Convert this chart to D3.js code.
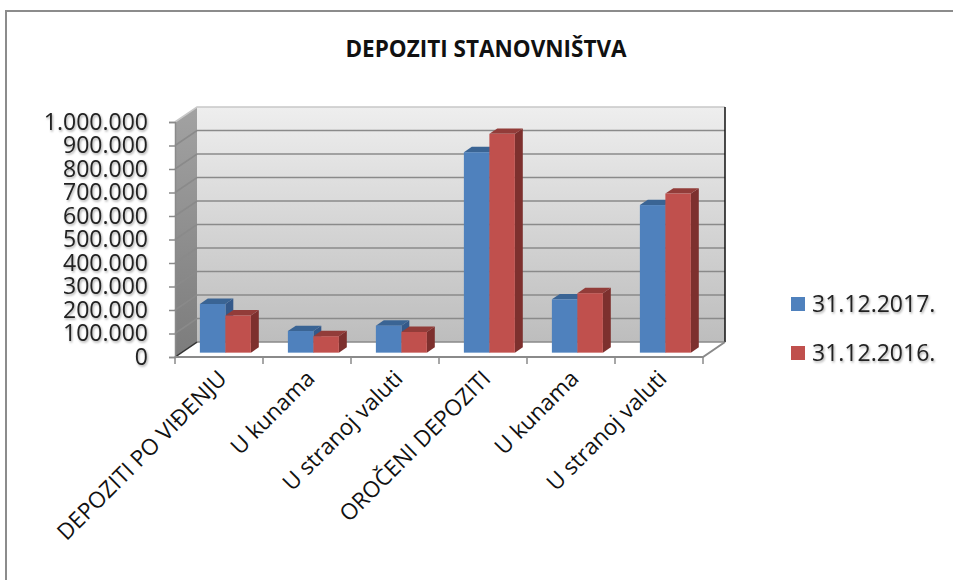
<!DOCTYPE html>
<html>
<head>
  <meta charset="utf-8">
  <script type="text/javascript" src="https://cdn.jsdelivr.net/npm/d3@7"></script>
  <style>
    body { margin: 0; background: #fff; }
    text { font-family: "Open Sans", "Noto Sans", sans-serif; }
  </style>
</head>
<body>
<div id="viz"></div>
<script type="text/javascript">
  // data
  var categories = ["DEPOZITI PO VIĐENJU", "U kunama", "U stranoj valuti", "OROČENI DEPOZITI", "U kunama ", "U stranoj valuti "];
  var series = ["31.12.2017.", "31.12.2016."];
  var values2017 = [207000, 92000, 115000, 853000, 227000, 628000];
  var values2016 = [158000, 70000, 88000, 931000, 253000, 677000];
  var yTicks = [0, 100000, 200000, 300000, 400000, 500000, 600000, 700000, 800000, 900000, 1000000];

  var colors = ["#4F81BD", "#C0504D"];
  var topCol = ["#3A6494", "#923C39"];
  var sideCol = ["#34598A", "#7D302E"];

  var W = 953, H = 580;
  var DX = 22, DY = 15;           // depth offset of the back wall
  var d0 = 0.29, d1 = 0.65;       // bar depth (front / back)

  var svg = d3.select("#viz").append("svg")
    .attr("width", W).attr("height", H);

  var defs = svg.append("defs");
  var g1 = defs.append("linearGradient").attr("id", "wall").attr("x1", 0).attr("y1", 0).attr("x2", 0).attr("y2", 1);
  g1.append("stop").attr("offset", "0%").attr("stop-color", "#eeeeee");
  g1.append("stop").attr("offset", "100%").attr("stop-color", "#bdbdbd");
  var g2 = defs.append("linearGradient").attr("id", "side").attr("x1", 0).attr("y1", 0).attr("x2", 0).attr("y2", 1);
  g2.append("stop").attr("offset", "0%").attr("stop-color", "#a2a2a2");
  g2.append("stop").attr("offset", "100%").attr("stop-color", "#7c7c7c");
  var f = defs.append("filter").attr("id", "shadow").attr("x", "-10%").attr("y", "-20%").attr("width", "130%").attr("height", "160%");
  f.append("feDropShadow").attr("dx", 1).attr("dy", 1.5).attr("stdDeviation", 1)
    .attr("flood-color", "#000").attr("flood-opacity", 0.35);

  // frame
  svg.append("path").attr("d", "M6,580V11H953")
    .attr("fill", "none").attr("stroke", "#8c8c8c").attr("stroke-width", 2);

  svg.append("text").attr("x", 486).attr("y", 57)
    .attr("text-anchor", "middle").attr("font-size", 22.5).attr("font-weight", "bold")
    .attr("fill", "#111").text("DEPOZITI STANOVNIŠTVA");

  var x = d3.scaleBand().domain(categories).range([175, 703]).padding(0);
  var y = d3.scaleLinear().domain([0, 1000000]).range([357, 122]);

  function proj(px, py, d) { return [px + d * DX, py - d * DY]; }
  function poly(pts) { return pts.map(function(p){ return p.join(","); }).join(" "); }

  var x0 = x.range()[0], x1 = x.range()[1];

  // floor
  svg.append("polygon")
    .attr("points", poly([proj(x0, y(0), 0), proj(x1, y(0), 0), proj(x1, y(0), 1), proj(x0, y(0), 1)]))
    .attr("fill", "#fff");

  // back wall
  svg.append("polygon")
    .attr("points", poly([proj(x0, y(1000000), 1), proj(x1, y(1000000), 1), proj(x1, y(0), 1), proj(x0, y(0), 1)]))
    .attr("fill", "url(#wall)");

  // side wall
  svg.append("polygon")
    .attr("points", poly([proj(x0, y(1000000), 0), proj(x0, y(1000000), 1), proj(x0, y(0), 1), proj(x0, y(0), 0)]))
    .attr("fill", "url(#side)");

  // gridlines on both walls
  svg.selectAll("polyline.grid")
    .data(yTicks)
    .enter()
    .append("polyline")
    .attr("class", "grid")
    .attr("points", function(t){ return poly([proj(x0, y(t), 0), proj(x0, y(t), 1), proj(x1, y(t), 1)]); })
    .attr("fill", "none")
    .attr("stroke", function(t){ return t == 1000000 ? "#c8c8c8" : "#8a8a8a"; })
    .attr("stroke-width", 1.6);

  // right edge of back wall
  svg.append("line")
    .attr("x1", proj(x1, y(1000000), 1)[0]).attr("y1", proj(x1, y(1000000), 1)[1])
    .attr("x2", proj(x1, y(0), 1)[0]).attr("y2", proj(x1, y(0), 1)[1])
    .attr("stroke", "#111").attr("stroke-width", 1.5);

  // floor edges
  svg.append("polyline")
    .attr("points", poly([proj(x0, y(0), 1), proj(x0, y(0), 0)]))
    .attr("fill", "none").attr("stroke", "#333").attr("stroke-width", 1.5);
  svg.append("polyline")
    .attr("points", poly([proj(x0, y(0), 0), proj(x1, y(0), 0), proj(x1, y(0), 1)]))
    .attr("fill", "none").attr("stroke", "#8a8a8a").attr("stroke-width", 2);

  // bars
  var bw = 25.5;
  var data = [];
  categories.forEach(function(c, i) {
    [values2017[i], values2016[i]].forEach(function(v, s) {
      data.push({ cat: c, s: s, v: v });
    });
  });

  var bars = svg.selectAll("g.bar")
    .data(data)
    .enter()
    .append("g")
    .attr("class", "bar");

  function bx(d) { return x(d.cat) + x.bandwidth() / 2 - bw + d.s * bw; }

  bars.append("polygon")
    .attr("points", function(d){
      var a = bx(d), b = a + bw, t = y(d.v), z = y(0);
      return poly([proj(b, t, d0), proj(b, t, d1), proj(b, z, d1), proj(b, z, d0)]);
    })
    .attr("fill", function(d){ return sideCol[d.s]; });
  bars.append("polygon")
    .attr("points", function(d){
      var a = bx(d), b = a + bw, t = y(d.v);
      return poly([proj(a, t, d0), proj(b, t, d0), proj(b, t, d1), proj(a, t, d1)]);
    })
    .attr("fill", function(d){ return topCol[d.s]; });
  bars.append("rect")
    .attr("x", function(d){ return proj(bx(d), 0, d0)[0]; })
    .attr("y", function(d){ return proj(0, y(d.v), d0)[1]; })
    .attr("width", bw)
    .attr("height", function(d){ return y(0) - y(d.v); })
    .attr("fill", function(d){ return colors[d.s]; });

  // y axis
  var yAxis = svg.append("g").attr("transform", "translate(" + x0 + ",0)")
    .call(d3.axisLeft(y).tickValues(yTicks).tickSize(6).tickPadding(21)
      .tickFormat(function(d){ return d3.format(",")(d).replace(/,/g, "."); }));
  yAxis.select(".domain").attr("stroke", "#8a8a8a").attr("stroke-width", 1.5);
  yAxis.selectAll(".tick line").attr("stroke", "#8a8a8a").attr("stroke-width", 1.5);
  yAxis.selectAll(".tick text")
    .attr("font-size", 23).attr("fill", "#222")
    .attr("font-family", "'Open Sans', sans-serif")
    .attr("filter", "url(#shadow)");

  // x axis
  var xAxis = svg.append("g").attr("transform", "translate(0," + y(0) + ")")
    .call(d3.axisBottom(x).tickSize(0).tickFormat(function(d){ return d.trim(); }));
  xAxis.select(".domain").remove();
  xAxis.selectAll(".tick text")
    .attr("font-size", 22.5).attr("fill", "#111")
    .attr("font-family", "'Open Sans', sans-serif")
    .attr("text-anchor", "end")
    .attr("dy", 0)
    .attr("transform", "translate(9,23) rotate(-45)")
    .attr("y", 0).attr("x", 0);

  var sep = d3.range(categories.length + 1).map(function(i){ return x0 + i * x.bandwidth(); });
  svg.selectAll("line.xtick")
    .data(sep)
    .enter()
    .append("line")
    .attr("class", "xtick")
    .attr("x1", function(d){ return d; }).attr("x2", function(d){ return d; })
    .attr("y1", y(0)).attr("y2", y(0) + 7)
    .attr("stroke", "#8a8a8a").attr("stroke-width", 1.5);

  // legend
  var leg = svg.selectAll("g.leg")
    .data(series)
    .enter()
    .append("g")
    .attr("class", "leg")
    .attr("transform", function(d, i){ return "translate(791," + (297 + i * 49) + ")"; });
  leg.append("rect").attr("width", 14).attr("height", 14)
    .attr("fill", function(d, i){ return colors[i]; });
  leg.append("text").attr("x", 21).attr("y", 15)
    .attr("font-size", 23).attr("fill", "#222")
    .attr("filter", "url(#shadow)")
    .text(function(d){ return d; });
</script>
</body>
</html>
